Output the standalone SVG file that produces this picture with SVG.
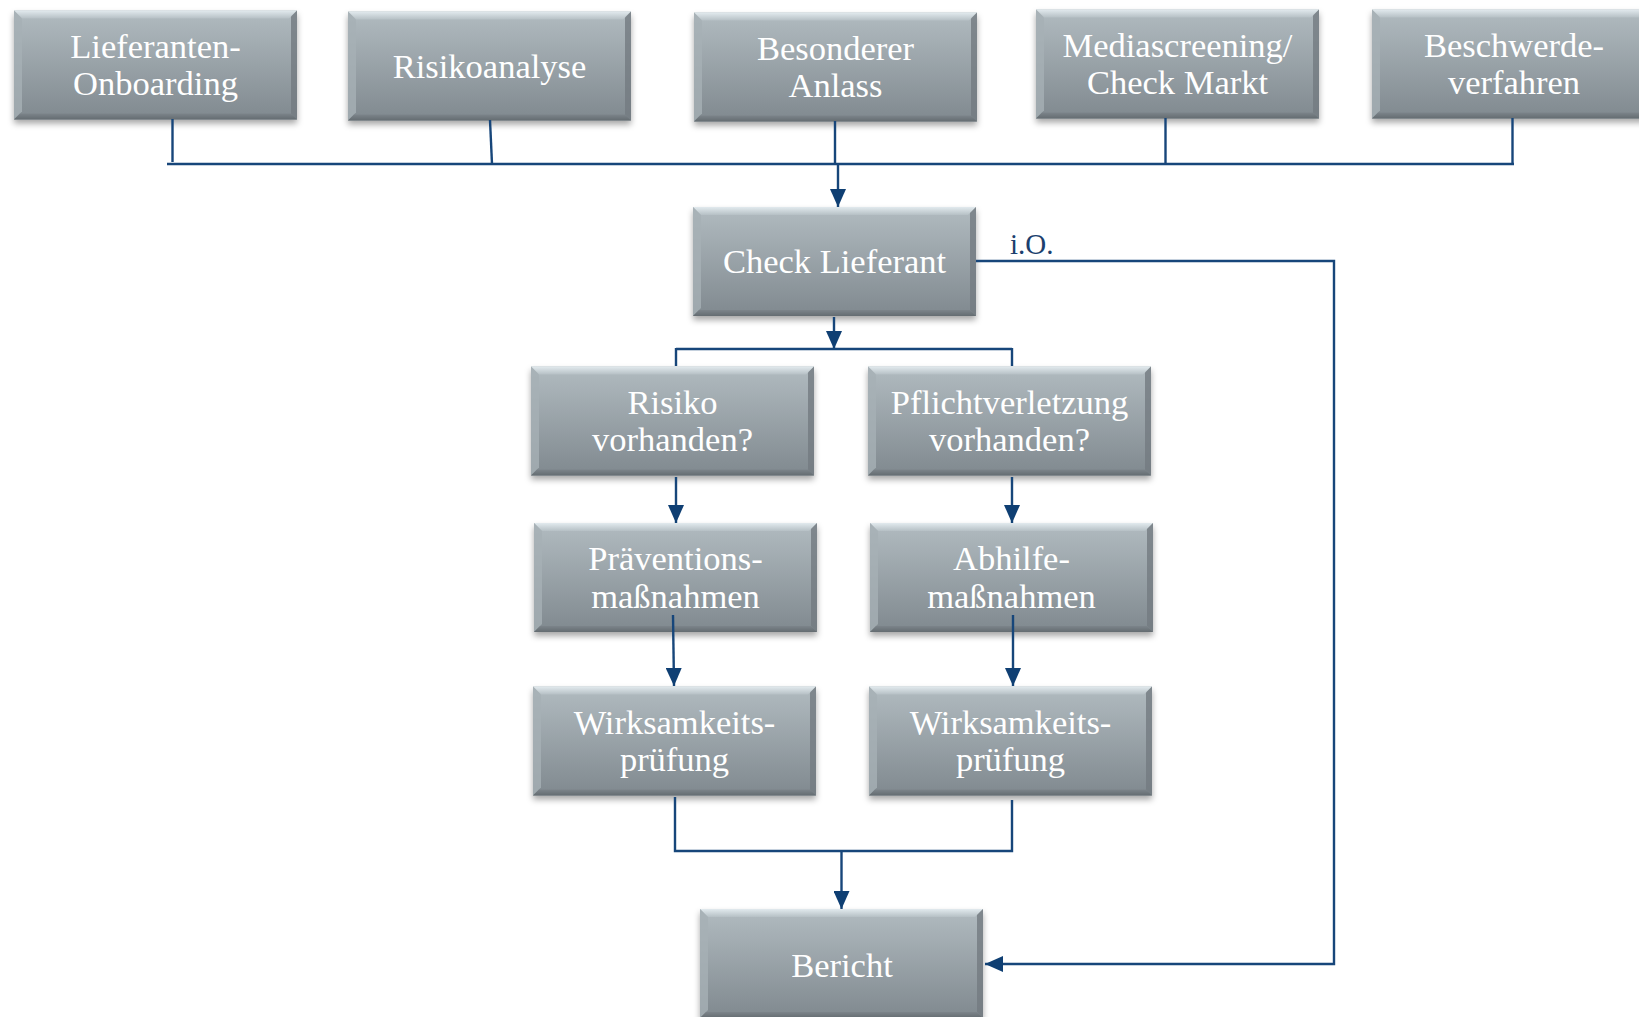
<svg xmlns="http://www.w3.org/2000/svg" xmlns:xlink="http://www.w3.org/1999/xlink" width="1639" height="1017" viewBox="0 0 1639 1017">
<defs>
<style>
.lbl{font-family:"Liberation Serif","Times New Roman",serif;font-size:34.5px;fill:#ffffff;text-anchor:middle}
.io{font-family:"Liberation Serif","Times New Roman",serif;font-size:29px;fill:#1c3f6e}
.con{fill:none;stroke:#17467a;stroke-width:2.4}
</style>
<linearGradient id="face" x1="0" y1="0" x2="0" y2="1">
<stop offset="0" stop-color="#b1bbc0"/>
<stop offset="1" stop-color="#80898f"/>
</linearGradient>
<linearGradient id="topbev" x1="0" y1="0" x2="0" y2="1">
<stop offset="0" stop-color="#e2eaee"/>
<stop offset="1" stop-color="#b6c0c5"/>
</linearGradient>
<linearGradient id="botbev" x1="0" y1="0" x2="0" y2="1">
<stop offset="0" stop-color="#7c848a"/>
<stop offset="1" stop-color="#646c71"/>
</linearGradient>
<filter id="sh" x="-10%" y="-10%" width="120%" height="130%">
<feDropShadow dx="0" dy="4" stdDeviation="3" flood-color="#000" flood-opacity="0.35"/>
</filter>
<g id="box">
<rect x="0" y="0" width="283" height="109" fill="url(#face)" filter="url(#sh)"/>
<polygon points="0,0 283,0 275,8 8,8" fill="url(#topbev)"/>
<polygon points="0,0 8,8 8,101 0,109" fill="#a6b0b5" opacity="0.8"/>
<polygon points="283,0 283,109 277,103 277,6" fill="#737b81" opacity="0.8"/>
<polygon points="0,109 6,103 277,103 283,109" fill="url(#botbev)"/>
</g>
<marker id="ah" markerUnits="userSpaceOnUse" markerWidth="18" markerHeight="16" refX="18" refY="8" orient="auto" viewBox="0 0 18 16">
<path d="M0,0 L18,8 L0,16 z" fill="#0f3f73"/>
</marker>
</defs>
<rect width="1639" height="1017" fill="#ffffff"/>

<g id="n1"><use xlink:href="#box" x="14" y="10.5"/><text class="lbl" x="155.5" y="57.5">Lieferanten-</text><text class="lbl" x="155.5" y="95">Onboarding</text></g>
<g id="n2"><use xlink:href="#box" x="348" y="11.5"/><text class="lbl" x="489.5" y="77.5">Risikoanalyse</text></g>
<g id="n3"><use xlink:href="#box" x="694" y="12.5"/><text class="lbl" x="835.5" y="59.5">Besonderer</text><text class="lbl" x="835.5" y="97">Anlass</text></g>
<g id="n4"><use xlink:href="#box" x="1036" y="9.5"/><text class="lbl" x="1177.5" y="56.5">Mediascreening/</text><text class="lbl" x="1177.5" y="94">Check Markt</text></g>
<g id="n5"><use xlink:href="#box" x="1372" y="9.5"/><text class="lbl" x="1514" y="56.5">Beschwerde-</text><text class="lbl" x="1514" y="94">verfahren</text></g>
<g id="n6"><use xlink:href="#box" x="693" y="207"/><text class="lbl" x="834.5" y="273">Check Lieferant</text></g>
<g id="n7"><use xlink:href="#box" x="531" y="366.5"/><text class="lbl" x="672.5" y="413.5">Risiko</text><text class="lbl" x="672.5" y="451">vorhanden?</text></g>
<g id="n8"><use xlink:href="#box" x="868" y="366.5"/><text class="lbl" x="1009.5" y="413.5">Pflichtverletzung</text><text class="lbl" x="1009.5" y="451">vorhanden?</text></g>
<g id="n9"><use xlink:href="#box" x="534" y="523"/><text class="lbl" x="675.5" y="570">Präventions-</text><text class="lbl" x="675.5" y="607.5">maßnahmen</text></g>
<g id="n10"><use xlink:href="#box" x="870" y="523"/><text class="lbl" x="1011.5" y="570">Abhilfe-</text><text class="lbl" x="1011.5" y="607.5">maßnahmen</text></g>
<g id="n11"><use xlink:href="#box" x="533" y="686.5"/><text class="lbl" x="674.5" y="733.5">Wirksamkeits-</text><text class="lbl" x="674.5" y="771">prüfung</text></g>
<g id="n12"><use xlink:href="#box" x="869" y="686.5"/><text class="lbl" x="1010.5" y="733.5">Wirksamkeits-</text><text class="lbl" x="1010.5" y="771">prüfung</text></g>
<g id="n13"><use xlink:href="#box" x="700" y="909"/><text class="lbl" x="842" y="977">Bericht</text></g>

<g id="connectors">
<path class="con" d="M172.5 119 V162"/>
<path class="con" d="M167 164 H1514"/>
<path class="con" d="M490 120 L492 164"/>
<path class="con" d="M835 121 V164"/>
<path class="con" d="M1165.5 118 V164"/>
<path class="con" d="M1512.5 118 V164"/>
<path class="con" d="M838 164 V207" marker-end="url(#ah)"/>
<path class="con" d="M834 317 V349" marker-end="url(#ah)"/>
<path class="con" d="M676 349 H1012 M676 348 V366 M1012 348 V366"/>
<path class="con" d="M976 261 H1334 V964 H985" marker-end="url(#ah)"/>
<path class="con" d="M676 477 V523" marker-end="url(#ah)"/>
<path class="con" d="M1012 477 V523" marker-end="url(#ah)"/>
<path class="con" d="M673 615 L674 686" marker-end="url(#ah)"/>
<path class="con" d="M1013 615 V686" marker-end="url(#ah)"/>
<path class="con" d="M675 797 V851 H1012 V800"/>
<path class="con" d="M841.5 851 V909" marker-end="url(#ah)"/>
</g>
<text id="lbl-io" class="io" x="1010" y="254">i.O.</text>
</svg>
